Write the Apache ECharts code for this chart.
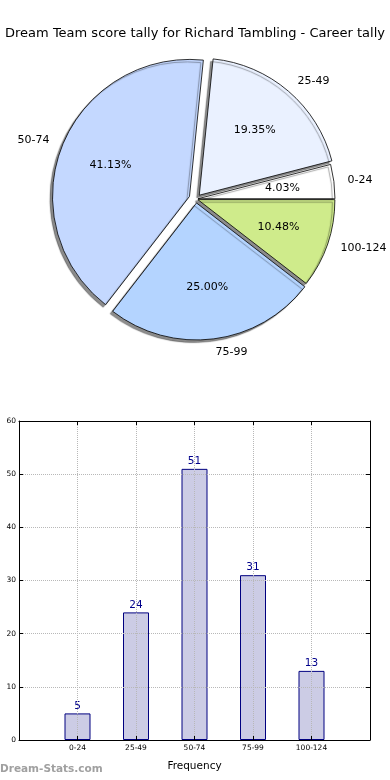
<!DOCTYPE html>
<html><head><meta charset="utf-8">
<script src="https://cdn.jsdelivr.net/npm/echarts@6/dist/echarts.min.js"></script>
<style>html,body{margin:0;padding:0;background:#fff}#c{width:390px;height:780px}</style>
</head><body><div id="c"></div>
<script>
const categories = ['0-24', '25-49', '50-74', '75-99', '100-124'];
const frequencies = [5, 24, 51, 31, 13];
const yTicks = [0, 10, 20, 30, 40, 50, 60];
const sliceColors = ['#FFFFFF', '#EAF1FF', '#C4D8FF', '#B4D4FF', '#CFEB8B'];
const explodePx = [2, 5, 7, 4, 2];
const drawOrder = [0, 1, 4, 3, 2];

const total = frequencies.reduce((a, b) => a + b, 0);
const R = 137;
const CENTER = [196, 199];
const FONT = 'DejaVu Sans';

function sliceSeries(i) {
  return {
    type: 'pie', silent: true, animation: false, z: 2,
    center: CENTER, radius: [0, R], startAngle: 0, clockwise: false,
    selectedMode: 'multiple', selectedOffset: explodePx[i], avoidLabelOverlap: false,
    emphasis: {disabled: true},
    labelLine: {show: false, length: R * 0.1, length2: 0},
    data: categories.map((name, j) => {
      const vis = j === i;
      const st = vis ? {color: sliceColors[j], borderColor: '#000', borderWidth: 0.8,
        shadowColor: 'rgba(0,0,0,0.45)', shadowBlur: 1, shadowOffsetX: -2.5, shadowOffsetY: 2.5}
        : {color: 'rgba(0,0,0,0)', borderWidth: 0};
      return {name, value: frequencies[j], selected: vis, itemStyle: st, select: {itemStyle: st},
        label: vis ? {show: true, position: 'outside', formatter: '{b}', distanceToLabelLine: 0,
          color: '#000', fontFamily: FONT, fontSize: 11} : {show: false}};
    })
  };
}
function pctSeries(i) {
  return {
    type: 'pie', silent: true, animation: false, z: 3,
    center: CENTER, radius: [0, R * 1.2], startAngle: 0, clockwise: false,
    selectedMode: 'multiple', selectedOffset: explodePx[i], avoidLabelOverlap: false,
    emphasis: {disabled: true}, labelLine: {show: false},
    data: categories.map((name, j) => {
      const vis = j === i;
      const st = {color: 'rgba(0,0,0,0)', borderWidth: 0};
      return {name, value: frequencies[j], selected: vis, itemStyle: st, select: {itemStyle: st},
        label: vis ? {show: true, position: 'inside',
          formatter: () => (frequencies[j] / total * 100).toFixed(2) + '%',
          color: '#000', fontFamily: FONT, fontSize: 11} : {show: false}};
    })
  };
}

const tickStyle = {show: true, inside: true, length: 4, lineStyle: {color: '#000', width: 1}};
const gridLine = {show: true, showMinLine: false, showMaxLine: false, lineStyle: {type: 'dotted', color: '#b8b8b8', width: 1}};
const axLine = {show: true, onZero: false, lineStyle: {color: '#000', width: 1}};

const option = {
  animation: false,
  backgroundColor: '#fff',
  title: {text: 'Dream Team score tally for Richard Tambling - Career tally', left: 'center', top: 22,
    textStyle: {fontFamily: FONT, fontSize: 13, fontWeight: 'normal', color: '#000'}},
  grid: {left: 19, right: 20, top: 421, bottom: 40, show: false},
  xAxis: [
    {type: 'value', min: -1, max: 5, interval: 1, z: 3, position: 'bottom',
      axisLine: axLine, axisTick: tickStyle,
      axisLabel: {formatter: v => categories[v] || '', fontSize: 7.5, fontFamily: FONT, color: '#000', margin: 4, showMinLabel: false, showMaxLabel: false},
      splitLine: gridLine,
      name: 'Frequency', nameLocation: 'middle', nameGap: 21,
      nameTextStyle: {fontFamily: FONT, fontSize: 10.5, color: '#000'}},
    {type: 'value', min: -1, max: 5, interval: 1, z: 3, position: 'top',
      axisLine: axLine, axisTick: tickStyle,
      axisLabel: {show: false}, splitLine: {show: false}}
  ],
  yAxis: [
    {type: 'value', min: yTicks[0], max: yTicks[yTicks.length - 1], interval: 10, z: 3, position: 'left',
      axisLine: axLine, axisTick: tickStyle,
      axisLabel: {fontSize: 7.5, fontFamily: FONT, color: '#000', margin: 3},
      splitLine: gridLine},
    {type: 'value', min: yTicks[0], max: yTicks[yTicks.length - 1], interval: 10, z: 3, position: 'right',
      axisLine: axLine, axisTick: tickStyle,
      axisLabel: {show: false}, splitLine: {show: false}}
  ],
  graphic: [{type: 'text', left: 0, top: 764, silent: true,
    style: {text: 'Dream-Stats.com', fill: '#a0a0a0', font: 'bold 10.5px "DejaVu Sans"'}}],
  series: [
    ...drawOrder.map(sliceSeries),
    ...drawOrder.map(pctSeries),
    {type: 'bar', xAxisIndex: 0, yAxisIndex: 0, silent: true, z: 2,
      data: frequencies.map((v, i) => [i, v]), barWidth: 26,
      itemStyle: {color: '#CCCCE5', borderColor: '#000080', borderWidth: 1},
      label: {show: true, position: 'top', distance: 2, color: '#00008B', fontSize: 10.5, fontFamily: FONT}}
  ]
};
const chart = echarts.init(document.getElementById('c'), null, {renderer: 'canvas'});
chart.setOption(option);
</script></body></html>
